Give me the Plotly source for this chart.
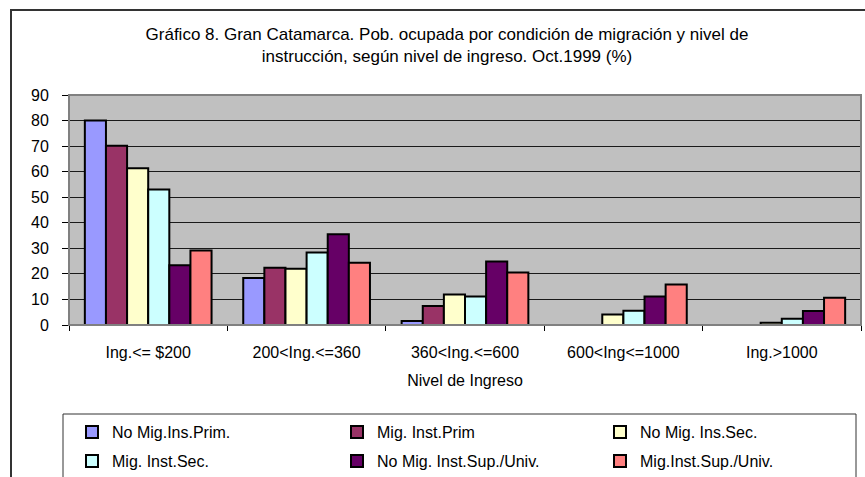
import plotly.graph_objects as go

categories = ["Ing.<= $200", "200<Ing.<=360", "360<Ing.<=600", "600<Ing<=1000", "Ing.>1000"]
series_names = ["No Mig.Ins.Prim.", "Mig. Inst.Prim", "No Mig. Ins.Sec.",
                "Mig. Inst.Sec.", "No Mig. Inst.Sup./Univ.", "Mig.Inst.Sup./Univ."]
no_mig_prim = [80.0, 18.4, 1.6, 0.0, 0.0]
mig_prim = [70.1, 22.4, 7.4, 0.0, 0.0]
no_mig_sec = [61.3, 22.0, 11.9, 4.1, 0.9]
mig_sec = [53.0, 28.4, 11.2, 5.6, 2.4]
no_mig_sup = [23.4, 35.5, 24.8, 11.2, 5.5]
mig_sup = [29.2, 24.4, 20.5, 15.8, 10.7]
series_values = [no_mig_prim, mig_prim, no_mig_sec, mig_sec, no_mig_sup, mig_sup]
colors = ["#9999FF", "#993366", "#FFFFCC", "#CCFFFF", "#660066", "#FF8080"]

W, H = 865, 477
L, R, T, B = 69, 4, 95, 152
PW, PH = W - L - R, H - T - B

def px_x(x):
    return (x - L) / PW

def px_y(y):
    return (H - B - y) / PH

FONT = "Liberation Sans, Arial, sans-serif"

# legend slot (symbol-centre x, row-centre y) in pixels
legend_slots = [(92, 432), (357, 432), (620, 432), (92, 461), (357, 461), (620, 461)]
legend_ids = ["legend", "legend2", "legend3", "legend4", "legend5", "legend6"]

fig = go.Figure()
for i, (name, vals, col) in enumerate(zip(series_names, series_values, colors)):
    fig.add_trace(go.Bar(
        x=categories, y=vals, name=name, showlegend=True,
        marker=dict(color=col, line=dict(color="black", width=2)),
        legend=legend_ids[i],
    ))

legend_layout = {}
for lid, (sx, sy) in zip(legend_ids, legend_slots):
    legend_layout[lid] = dict(
        visible=True,
        orientation="h", xref="container", yref="container",
        x=(sx - 20) / W, xanchor="left", y=1 - sy / H, yanchor="middle",
        bgcolor="rgba(0,0,0,0)", font=dict(size=16, family=FONT, color="black"),
    )

fig.update_layout(
    width=W, height=H,
    showlegend=True,
    margin=dict(l=L, r=R, t=T, b=B, autoexpand=False),
    paper_bgcolor="white",
    plot_bgcolor="#C0C0C0",
    barmode="group", bargap=0.2, bargroupgap=0,
    font=dict(family=FONT, size=16, color="black"),
    title=dict(
        text="Gráfico 8. Gran Catamarca. Pob. ocupada por condición de migración y nivel de<br>"
             "instrucción, según nivel de ingreso. Oct.1999 (%)",
        x=447 / W, xanchor="center", y=1 - 40 / H, yanchor="middle", yref="container",
        font=dict(family=FONT, size=17, color="black"),
    ),
    xaxis=dict(
        showgrid=False, showline=True, linecolor="black", linewidth=1,
        ticks="outside", tickson="boundaries", ticklen=5, tickcolor="black",
        ticklabelstandoff=13, automargin=False,
        title=dict(text="Nivel de Ingreso", standoff=14, font=dict(size=16)),
        tickfont=dict(size=16),
    ),
    yaxis=dict(
        range=[0, 90], dtick=10, showgrid=True, gridcolor="#1a1a1a", gridwidth=1,
        showline=True, linecolor="black", linewidth=1, automargin=False,
        ticks="outside", ticklen=6, tickcolor="black", zeroline=False,
        ticklabelstandoff=10, tickfont=dict(size=16),
    ),
    shapes=[
        dict(type="rect", xref="paper", yref="paper", x0=0, x1=1, y0=0, y1=1,
             line=dict(color="#808080", width=2), layer="above"),
        dict(type="rect", xref="paper", yref="paper",
             x0=px_x(63), x1=px_x(856), y0=px_y(495), y1=px_y(414),
             line=dict(color="#333333", width=1)),
        dict(type="rect", xref="paper", yref="paper",
             x0=px_x(11), x1=px_x(880), y0=px_y(495), y1=px_y(10),
             line=dict(color="#333333", width=2)),
    ],
    **legend_layout,
)

fig.write_html("out.html", config={"displayModeBar": False},
               post_script="document.body.style.margin='0';")
